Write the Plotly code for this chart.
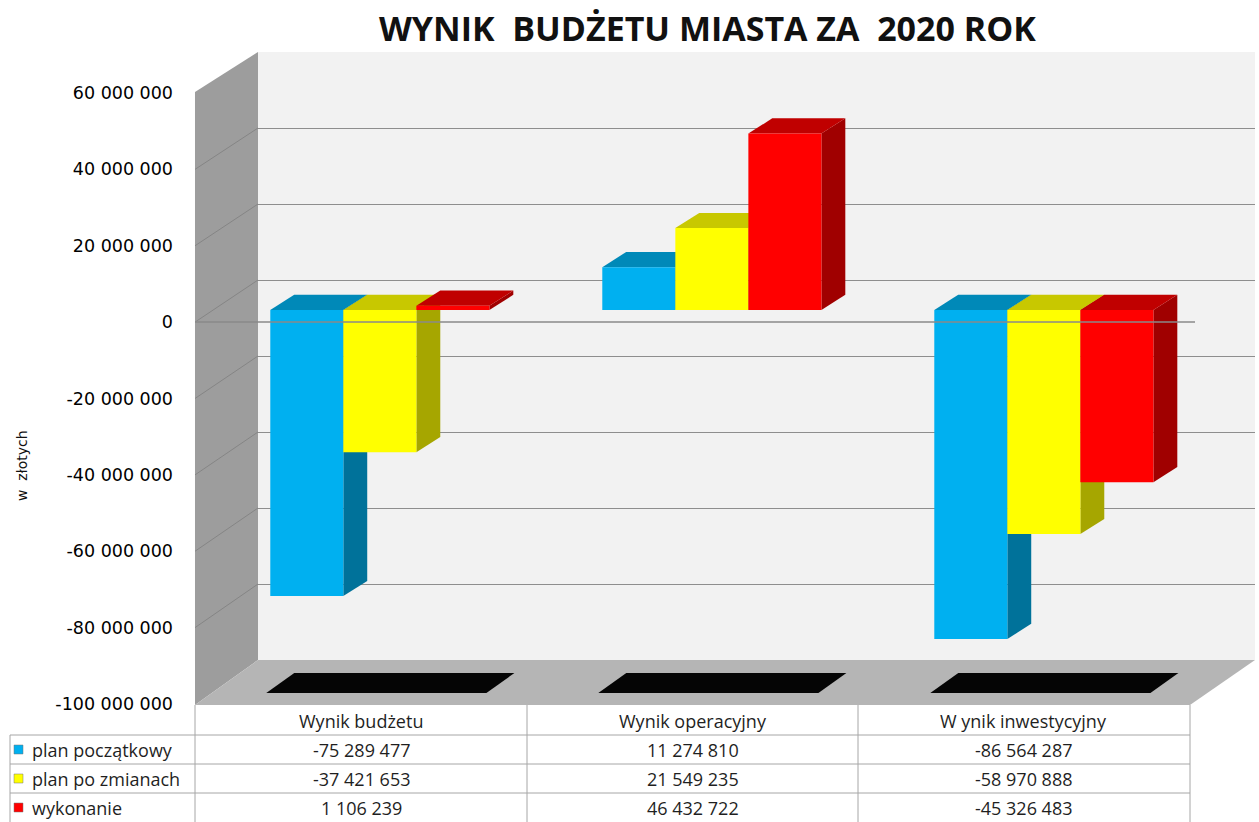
import plotly.graph_objects as go

# ---------------- data ----------------
categories = ["Wynik budżetu", "Wynik operacyjny", "W ynik inwestycyjny"]
series_names = ["plan początkowy", "plan po zmianach", "wykonanie"]
plan_poczatkowy = [-75289477, 11274810, -86564287]
plan_po_zmianach = [-37421653, 21549235, -58970888]
wykonanie = [1106239, 46432722, -45326483]
tick_values = [60e6, 40e6, 20e6, 0, -20e6, -40e6, -60e6, -80e6, -100e6]
title_text = "WYNIK  BUDŻETU MIASTA ZA  2020 ROK"
y_title = "w  złotych"

series_values = [plan_poczatkowy, plan_po_zmianach, wykonanie]
front_colors = ["#00b0f0", "#ffff00", "#ff0000"]
top_colors = ["#0089b8", "#c8c800", "#c00000"]
side_colors = ["#00729a", "#a6a600", "#a00000"]

W, H = 1259, 822
def px(x):
    return x / W
def py(y):
    return 1 - y / H

def fmt(v):
    return f"{int(round(v)):,}".replace(",", " ")

Y_RANGE = [-100e6, 60e6]
X_RANGE = [-0.367, 2.636]
BW = 0.22          # bar width in category units
DX = 0.072         # depth offset (x, category units)
DY = 4.0e6         # depth offset (y, value units)

fig = go.Figure()

# invisible trace so the back-wall subplot (gridlines) is drawn
fig.add_trace(go.Scatter(x=[None], y=[None], xaxis="x", yaxis="y",
                         showlegend=False, hoverinfo="skip"))

# bars (front faces)
for name, vals, col in zip(series_names, series_values, front_colors):
    fig.add_trace(go.Bar(
        x=list(range(len(categories))), y=vals, name=name,
        marker=dict(color=col, line=dict(width=0)),
        xaxis="x", yaxis="y2", width=BW,
        hovertemplate="%{y:,.0f}<extra>" + name + "</extra>",
    ))

# front zero line
fig.add_trace(go.Scatter(x=[0, 1], y=[0, 0], xaxis="x2", yaxis="y3",
                         mode="lines", line=dict(color="#8a8a8a", width=1.5),
                         showlegend=False, hoverinfo="skip"))

shapes = []

# walls and floor (decoration)
def poly(pts, fill, line=None):
    path = "M " + " L ".join(f"{px(a):.5f},{py(b):.5f}" for a, b in pts) + " Z"
    return dict(type="path", xref="paper", yref="paper", path=path,
                fillcolor=fill, line=dict(width=0 if line is None else 1,
                                          color=line or fill), layer="below")

shapes.append(poly([(258, 52), (1255, 52), (1255, 660), (258, 660)], "#f2f2f2"))
shapes.append(poly([(195, 92), (258, 52), (258, 660), (195, 705)], "#9d9d9d"))
shapes.append(poly([(195, 705), (258, 660), (1255, 660), (1190, 705)], "#b5b5b5"))

# left wall diagonal grid lines
def y_front(v):   # label plane (0 at 322 px, 60M at 93, -100M at 704)
    return 704 + (v - Y_RANGE[0]) / (Y_RANGE[1] - Y_RANGE[0]) * (93 - 704)
def y_back(v):
    return 660 + (v - Y_RANGE[0]) / (Y_RANGE[1] - Y_RANGE[0]) * (52 - 660)
for v in tick_values[1:-1]:
    shapes.append(dict(type="line", xref="paper", yref="paper",
                       x0=px(195), y0=py(y_front(v)), x1=px(258), y1=py(y_back(v)),
                       line=dict(color="#858585", width=1), layer="below"))

# floor shadows under each group
XDOM = [258, 1255]
def x_to_px(x):
    return XDOM[0] + (x - X_RANGE[0]) / (X_RANGE[1] - X_RANGE[0]) * (XDOM[1] - XDOM[0])
for i in range(len(categories)):
    xl = x_to_px(i - 1.5 * BW) - 4
    xr = x_to_px(i + 1.5 * BW) - 3
    shapes.append(poly([(xl, 693), (xr, 693), (xr + 28, 673), (xl + 28, 673)], "#050505"))

# 3D faces of the bars (computed from values)
for s, vals in enumerate(series_values):
    off = (s - 1) * BW
    for i, v in enumerate(vals):
        xl = i + off - BW / 2
        xr = xl + BW
        yt = max(v, 0)
        yb = min(v, 0)
        top = (f"M {xl},{yt} L {xr},{yt} L {xr + DX},{yt + DY} "
               f"L {xl + DX},{yt + DY} Z")
        side = (f"M {xr},{yb} L {xr},{yt} L {xr + DX},{yt + DY} "
                f"L {xr + DX},{yb + DY} Z")
        shapes.append(dict(type="path", xref="x", yref="y2", path=side,
                           fillcolor=side_colors[s], line=dict(width=0),
                           layer="between"))
        shapes.append(dict(type="path", xref="x", yref="y2", path=top,
                           fillcolor=top_colors[s], line=dict(width=0),
                           layer="between"))

# ---------------- data table ----------------
col_edges = [195, 527, 858, 1190]
row_edges = [705, 735, 764, 793, 822]
label_left = 10
tbl_line = dict(color="#a6a6a6", width=1)
for xe in col_edges:
    shapes.append(dict(type="line", xref="paper", yref="paper",
                       x0=px(xe), x1=px(xe), y0=py(705), y1=py(822), line=tbl_line))
shapes.append(dict(type="line", xref="paper", yref="paper",
                   x0=px(label_left), x1=px(label_left), y0=py(735), y1=py(822),
                   line=tbl_line))
for ye in row_edges[1:4]:
    shapes.append(dict(type="line", xref="paper", yref="paper",
                       x0=px(label_left), x1=px(col_edges[-1]), y0=py(ye), y1=py(ye),
                       line=tbl_line))

annotations = []
tfont = dict(family="Open Sans, sans-serif", size=18, color="#1f1f1f")
for j, cat in enumerate(categories):
    cx = (col_edges[j] + col_edges[j + 1]) / 2
    annotations.append(dict(xref="paper", yref="paper", x=px(cx),
                            y=py((row_edges[0] + row_edges[1]) / 2 + 1),
                            text=cat, showarrow=False, font=tfont,
                            xanchor="center", yanchor="middle"))
for r, (name, vals) in enumerate(zip(series_names, series_values)):
    cy = (row_edges[r + 1] + row_edges[r + 2]) / 2
    shapes.append(dict(type="rect", xref="paper", yref="paper",
                       x0=px(14), x1=px(23), y0=py(cy + 4.5), y1=py(cy - 4.5),
                       fillcolor=front_colors[r], line=dict(width=0.5, color="#777")))
    annotations.append(dict(xref="paper", yref="paper", x=px(30), y=py(cy),
                            text=name, showarrow=False, font=tfont,
                            xanchor="left", yanchor="middle"))
    for j, v in enumerate(vals):
        cx = (col_edges[j] + col_edges[j + 1]) / 2
        annotations.append(dict(xref="paper", yref="paper", x=px(cx), y=py(cy),
                                text=fmt(v), showarrow=False, font=tfont,
                                xanchor="center", yanchor="middle"))

# title and axis title
annotations.append(dict(xref="paper", yref="paper", x=px(707), y=py(28),
                        text=f"<b>{title_text}</b>", showarrow=False,
                        font=dict(family="Open Sans, sans-serif", size=34, color="#111"),
                        xanchor="center", yanchor="middle"))
annotations.append(dict(xref="paper", yref="paper", x=px(22), y=py(466),
                        text=y_title, showarrow=False, textangle=-90,
                        font=dict(family="DejaVu Sans, sans-serif", size=14, color="#111"),
                        xanchor="center", yanchor="middle"))

fig.update_layout(
    width=W, height=H, autosize=False,
    margin=dict(l=0, r=0, t=0, b=0, pad=0, autoexpand=False),
    paper_bgcolor="white", plot_bgcolor="rgba(0,0,0,0)",
    showlegend=False, barmode="group", bargap=0.34, bargroupgap=0,
    xaxis=dict(domain=[px(258), px(1255)], range=X_RANGE, visible=False,
               anchor="y", fixedrange=True),
    yaxis=dict(domain=[py(660), py(52)], range=Y_RANGE, anchor="x",
               showgrid=True, gridcolor="#8e8e8e", gridwidth=1.2, dtick=20e6,
               tick0=0, showticklabels=False, zeroline=False, showline=False,
               ticks="", fixedrange=True),
    yaxis2=dict(domain=[py(690), py(82)], range=Y_RANGE, anchor="x",
                visible=False, fixedrange=True),
    xaxis2=dict(domain=[px(195), px(1195)], range=[0, 1], visible=False,
                anchor="y3", fixedrange=True),
    yaxis3=dict(domain=[py(704), py(93)], range=Y_RANGE, anchor="free",
                position=px(195), side="left", showgrid=False, zeroline=False,
                showline=False, ticks="", tickvals=tick_values,
                ticktext=[fmt(v) for v in tick_values], ticklabelstandoff=22,
                tickfont=dict(family="DejaVu Sans, sans-serif", size=17.5, color="#000"),
                fixedrange=True),
    shapes=shapes, annotations=annotations,
)

fig.write_html("out.html", config={"displayModeBar": False, "responsive": False},
               post_script="document.body.style.margin='0px';"
                           "document.body.style.overflow='hidden';")
